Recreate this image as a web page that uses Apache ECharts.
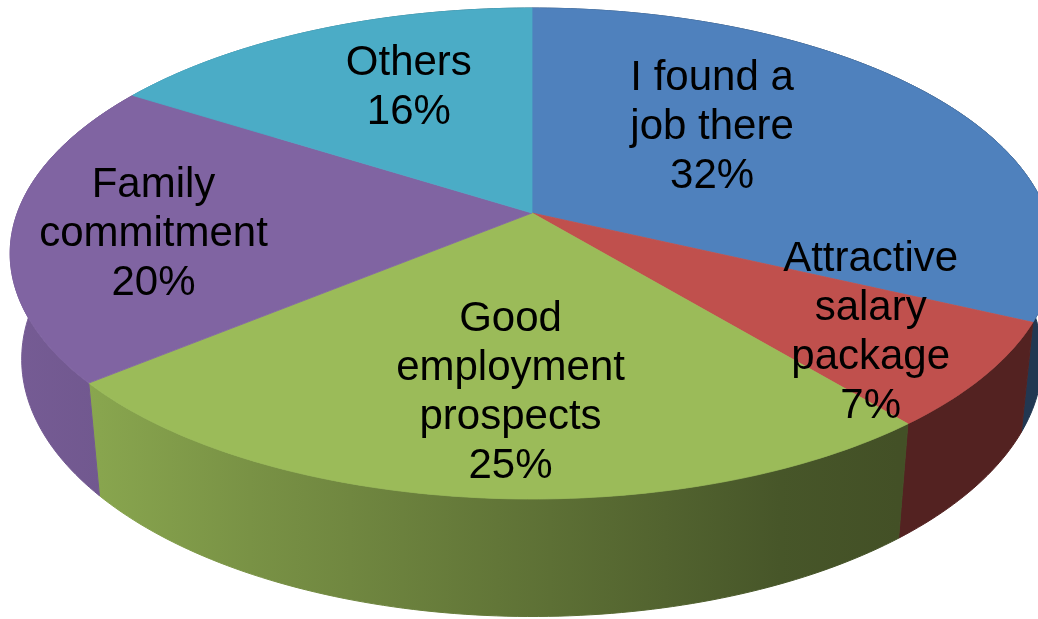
<!DOCTYPE html>
<html><head><meta charset="utf-8">
<script src="https://cdn.jsdelivr.net/npm/echarts@6/dist/echarts.min.js"></script>
<style>html,body{margin:0;padding:0;background:#fff}#c{width:1038px;height:619px}</style>
</head><body><div id="c"></div>
<script>
// ---- data ----
const categories = ['I found a\njob there', 'Attractive\nsalary\npackage', 'Good\nemployment\nprospects', 'Family\ncommitment', 'Others'];
const values = [32, 7, 25, 20, 16];
const colors = ['#4F81BD', '#C0504D', '#9BBB59', '#8064A2', '#4BACC6'];

// ---- layout (label placement: radius fraction, angle shift from slice middle) ----
const labelRadius = [0.54, 0.76, 0.665, 0.73, 0.64];
const labelShift = [-14, -1, -2.2, -2.6, 4.6];

const P = {cx: 532, cy: 213, A: 514.7, B: 238.8, k: 0.165, depth: 107, n: 0.022};
function proj(phi, r, bottom) { // phi: degrees clockwise from back (12 o'clock)
  const a = phi * Math.PI / 180;
  const X = r * Math.sin(a), Z = -r * Math.cos(a);
  const w = 1 - P.k * Z + (bottom ? P.n : 0);
  return [P.cx + P.A * X / w, P.cy + (P.B * Z + (bottom ? P.depth : 0)) / w];
}
function hexToRgb(h) { const n = parseInt(h.slice(1), 16); return [(n >> 16) & 255, (n >> 8) & 255, n & 255]; }
function shade(h, f) { const c = hexToRgb(h); return 'rgb(' + c.map(v => Math.round(v * f)).join(',') + ')'; }
const shadeStops = [[0, 0.92], [100, 0.88], [250, 0.78], [350, 0.72], [550, 0.60], [780, 0.46], [900, 0.43], [1038, 0.43]];

const total = values.reduce((a, b) => a + b, 0);
const starts = []; let acc = 0;
values.forEach(v => { starts.push(acc / total * 360); acc += v; });

function renderItem(params, api) {
  const i = params.dataIndex;
  const v = api.value(0);
  const a0 = starts[i], a1 = a0 + v / total * 360;
  const steps = Math.max(2, Math.ceil(a1 - a0));
  const topArc = [], botArc = [];
  for (let s = 0; s <= steps; s++) {
    const phi = a0 + (a1 - a0) * s / steps;
    topArc.push(proj(phi, 1, false));
    botArc.push(proj(phi, 1, true));
  }
  const topPts = [proj(0, 0, false)].concat(topArc);
  const sidePts = topArc.concat(botArc.slice().reverse());
  const grad = new echarts.graphic.LinearGradient(0, 0, 1038, 0,
    shadeStops.map(s => ({offset: s[0] / 1038, color: shade(colors[i], s[1])})), true);
  const mid = (a0 + a1) / 2 + labelShift[i];
  const lp = proj(mid, labelRadius[i], false);
  return {
    type: 'group',
    children: [
      {type: 'polygon', z2: 1, shape: {points: sidePts}, style: {fill: grad, stroke: grad, lineWidth: 1}},
      {type: 'polygon', z2: 2, shape: {points: topPts}, style: {fill: colors[i], stroke: colors[i], lineWidth: 0.8}},
      {type: 'text', z2: 3, style: {
        text: categories[i] + '\n' + v + '%', x: lp[0], y: lp[1] + 2,
        fill: '#000', font: '42px "Liberation Sans", Arial, sans-serif',
        align: 'center', verticalAlign: 'middle', lineHeight: 49
      }}
    ]
  };
}

const chart = echarts.init(document.getElementById('c'), null, {renderer: 'canvas'});
chart.setOption({
  backgroundColor: '#fff',
  animation: false,
  series: [{
    type: 'custom',
    coordinateSystem: 'none',
    renderItem: renderItem,
    data: values.map((v, i) => ({name: categories[i], value: [v]}))
  }]
});
</script></body></html>
